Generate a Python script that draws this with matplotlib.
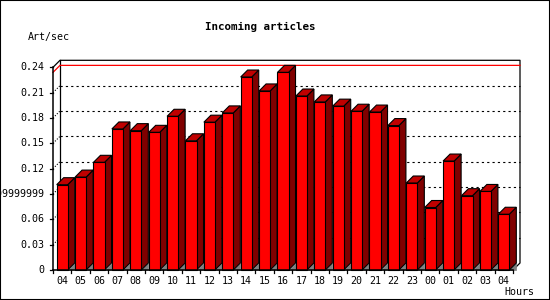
import matplotlib
matplotlib.use("Agg")
import matplotlib.pyplot as plt
from matplotlib.patches import Polygon, Rectangle

# data
hours = ["04", "05", "06", "07", "08", "09", "10", "11", "12", "13", "14", "15", "16",
         "17", "18", "19", "20", "21", "22", "23", "00", "01", "02", "03", "04"]
rates = [0.101, 0.110, 0.1275, 0.167, 0.165, 0.163, 0.182, 0.153, 0.175, 0.186, 0.2285,
         0.212, 0.234, 0.206, 0.199, 0.194, 0.188, 0.187, 0.171, 0.103, 0.074, 0.129,
         0.088, 0.093, 0.066]
y_ticks = [0, 0.03, 0.06, 0.09, 0.12, 0.15, 0.18, 0.21, 0.24]
y_labels = ["0", "0.03", "0.06", "0.09999999", "0.12", "0.15", "0.18", "0.21", "0.24"]

FRONT = "#ff0000"
TOP = "#c00000"
SIDE = "#800000"
FLOOR = "#808080"
mono = "DejaVu Sans Mono"

fig = plt.figure(figsize=(5.5, 3.0), dpi=100)
fig.patch.set_facecolor("white")
ax = fig.add_axes([53 / 550, 30 / 300, 460 / 550, 202.7 / 300])
n = len(hours)
ymax = 0.24
ax.set_xlim(0, n)
ax.set_ylim(0, ymax)
ax.axis("off")

# 3d depth, 7 px right and 7 px up
dx = 7 / (460 / n)
dy = 7 * ymax / 202.7

# back wall grid
for v in y_ticks[1:-1]:
    ax.plot([dx, n + dx], [v + dy, v + dy], color="black", lw=0.8,
            dashes=(2, 2.8), clip_on=False, zorder=1)
    ax.plot([0, dx], [v, v + dy], color="black", lw=0.8,
            dashes=(1, 1.5), clip_on=False, zorder=1)

# max line
vmax = max(rates)
ax.plot([0, dx, n + dx], [vmax, vmax + dy, vmax + dy], color="red", lw=0.9,
        clip_on=False, zorder=1.5)

# frame of the back wall
ax.plot([0, dx, n + dx, n + dx, n], [ymax, ymax + dy, ymax + dy, dy, 0],
        color="black", lw=0.9, clip_on=False, zorder=1.2)
ax.plot([dx, dx], [dy, ymax + dy], color="black", lw=0.9, clip_on=False, zorder=1.2)

# bars
w0, w1 = 0.2, 0.8
for i, v in enumerate(rates):
    x0, x1 = i + w0, i + w1
    kw = dict(ec="black", lw=0.8, clip_on=False, zorder=3, joinstyle="miter")
    ax.add_patch(Polygon([(x1, 0), (x1 + dx, 0), (x1 + dx, dy)], fc=FLOOR,
                         ec=FLOOR, lw=0.5, clip_on=False, zorder=2.5))
    ax.add_patch(Polygon([(x1, 0), (x1 + dx, dy), (x1 + dx, v + dy), (x1, v)],
                         fc=SIDE, **kw))
    ax.add_patch(Polygon([(x0, v), (x1, v), (x1 + dx, v + dy), (x0 + dx, v + dy)],
                         fc=TOP, **kw))
    ax.add_patch(Rectangle((x0, 0), w1 - w0, v, fc=FRONT, **kw))

# front axes
ax.plot([0, 0], [0, ymax], color="black", lw=1.1, clip_on=False, zorder=4)
ax.plot([0, n], [0, 0], color="black", lw=1.1, clip_on=False, zorder=4)

tick_y = 3 * ymax / 202.7
for v, lab in zip(y_ticks, y_labels):
    ax.plot([-0.16, 0], [v, v], color="black", lw=0.9, clip_on=False, zorder=4)
    ax.text(-0.45, v, lab, ha="right", va="center", fontsize=7.2,
            family=mono, clip_on=False)
for i in range(n + 1):
    ax.plot([i, i], [0, -tick_y], color="black", lw=0.9, clip_on=False, zorder=4)
for i, lab in enumerate(hours):
    ax.text(i + 0.5, -0.0125, lab, ha="center", va="center", fontsize=7.2,
            family=mono, clip_on=False)

ax.text(26.15, -0.0265, "Hours", ha="right", va="center", fontsize=7.2,
        family=mono, clip_on=False)
fig.text(260 / 550, 1 - 27 / 300, "Incoming articles", ha="center", va="center",
         fontsize=7.8, family=mono, fontweight="bold")
fig.text(28 / 550, 1 - 37 / 300, "Art/sec", ha="left", va="center",
         fontsize=7.2, family=mono)

fig.patches.append(Rectangle((0, 0), 1, 1, transform=fig.transFigure, fill=False,
                             ec="black", lw=1.5))

fig.savefig("out.png", dpi=100)
